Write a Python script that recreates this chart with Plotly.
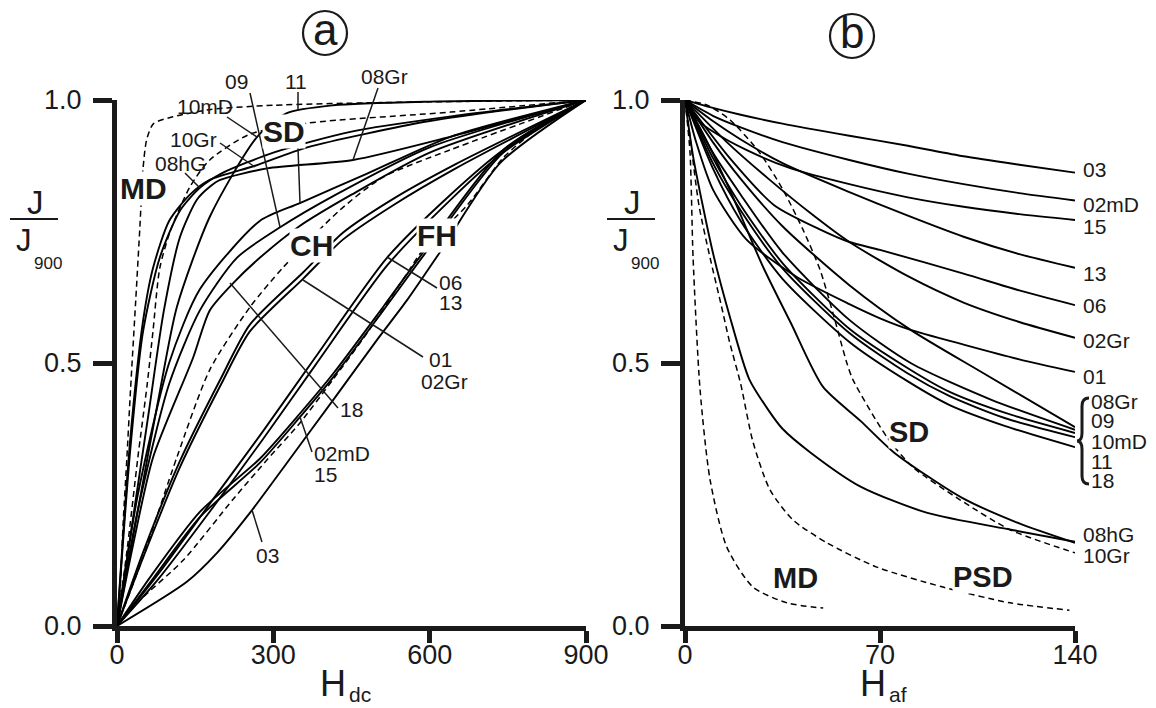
import plotly.graph_objects as go

# ---------------- data: panel (a)  J/J900 vs Hdc ----------------
A_MD_X = [0, 6, 12, 19, 26, 36, 44, 50, 57, 70, 107, 180, 300, 500, 900]
A_MD_Y = [0, 0.07, 0.2, 0.32, 0.45, 0.62, 0.76, 0.87, 0.925, 0.955, 0.968, 0.982, 0.99, 0.995, 1.0]
A_SD_X = [0, 20, 40, 58, 69, 82, 102, 140, 178, 255, 365, 640, 900]
A_SD_Y = [0, 0.15, 0.32, 0.46, 0.56, 0.68, 0.75, 0.835, 0.886, 0.935, 0.956, 0.977, 1.0]
A_CH_X = [0, 50, 115, 178, 255, 319, 428, 510, 639, 900]
A_CH_Y = [0, 0.131, 0.321, 0.487, 0.606, 0.682, 0.791, 0.853, 0.905, 1.0]
A_FH_X = [0, 44, 127, 222, 288, 351, 414, 480, 557, 587, 672, 741, 800, 900]
A_FH_Y = [0, 0.049, 0.125, 0.24, 0.316, 0.386, 0.468, 0.557, 0.671, 0.715, 0.80, 0.89, 0.94, 1.0]

A_03_X = [0, 134, 192, 255, 326, 415, 499, 557, 620, 735, 900]
A_03_Y = [0, 0.084, 0.139, 0.215, 0.31, 0.43, 0.544, 0.62, 0.711, 0.88, 1.0]
A_02mD_X = [0, 63, 159, 274, 351, 415, 511, 600, 741, 900]
A_02mD_Y = [0, 0.082, 0.207, 0.31, 0.397, 0.473, 0.6, 0.72, 0.9, 1.0]
A_15_X = [0, 63, 159, 274, 351, 415, 511, 600, 741, 900]
A_15_Y = [0, 0.092, 0.217, 0.318, 0.404, 0.48, 0.607, 0.727, 0.905, 1.0]
A_06_X = [0, 80, 180, 280, 380, 518, 640, 741, 900]
A_06_Y = [0, 0.1, 0.235, 0.37, 0.51, 0.70, 0.82, 0.905, 1.0]
A_13_X = [0, 80, 180, 280, 380, 518, 640, 741, 900]
A_13_Y = [0, 0.09, 0.22, 0.355, 0.495, 0.685, 0.81, 0.9, 1.0]
A_01_X = [0, 50, 120, 200, 255, 357, 434, 530, 650, 900]
A_01_Y = [0, 0.13, 0.3, 0.46, 0.56, 0.66, 0.735, 0.8, 0.87, 1.0]
A_02Gr_X = [0, 50, 120, 200, 255, 357, 434, 530, 650, 900]
A_02Gr_Y = [0, 0.14, 0.312, 0.472, 0.573, 0.672, 0.748, 0.812, 0.878, 1.0]
A_18_X = [0, 30, 69, 146, 178, 223, 274, 350, 450, 600, 900]
A_18_Y = [0, 0.15, 0.32, 0.51, 0.6, 0.652, 0.7, 0.76, 0.82, 0.9, 1.0]
A_09_X = [0, 40, 100, 159, 230, 313, 420, 600, 900]
A_09_Y = [0, 0.22, 0.46, 0.6, 0.7, 0.758, 0.82, 0.91, 1.0]
A_11_X = [0, 40, 100, 159, 274, 351, 480, 640, 900]
A_11_Y = [0, 0.25, 0.5, 0.64, 0.77, 0.804, 0.86, 0.93, 1.0]
A_08Gr_X = [0, 30, 60, 90, 121, 153, 178, 198, 288, 453, 639, 900]
A_08Gr_Y = [0, 0.2, 0.4, 0.6, 0.74, 0.81, 0.835, 0.848, 0.87, 0.886, 0.93, 1.0]
A_08hG_X = [0, 25, 50, 82, 121, 159, 200, 300, 450, 650, 900]
A_08hG_Y = [0, 0.33, 0.56, 0.7, 0.79, 0.833, 0.86, 0.9, 0.94, 0.97, 1.0]
A_10Gr_X = [0, 25, 50, 69, 100, 140, 178, 265, 365, 600, 900]
A_10Gr_Y = [0, 0.35, 0.58, 0.68, 0.77, 0.82, 0.848, 0.875, 0.91, 0.96, 1.0]
A_10mD_X = [0, 40, 83, 115, 179, 269, 326, 415, 600, 900]
A_10mD_Y = [0, 0.22, 0.45, 0.607, 0.78, 0.93, 0.975, 0.99, 0.997, 1.0]

# ---------------- data: panel (b)  J/J900 vs Haf ----------------
B_03_X = [0, 10, 20, 35, 59, 80, 100, 120, 140]
B_03_Y = [1, 0.985, 0.972, 0.955, 0.932, 0.913, 0.893, 0.877, 0.862]
B_02mD_X = [0, 10, 20, 35, 59, 80, 100, 120, 140]
B_02mD_Y = [1, 0.97, 0.948, 0.92, 0.886, 0.86, 0.84, 0.823, 0.809]
B_15_X = [0, 5, 10, 22, 38, 59, 80, 100, 120, 140]
B_15_Y = [1, 0.96, 0.94, 0.905, 0.87, 0.84, 0.815, 0.797, 0.783, 0.772]
B_13_X = [0, 10, 20, 35, 59, 80, 100, 120, 140]
B_13_Y = [1, 0.96, 0.925, 0.88, 0.825, 0.78, 0.74, 0.707, 0.681]
B_06_X = [0, 16, 32, 48, 59, 70, 100, 120, 140]
B_06_Y = [1, 0.89, 0.80, 0.755, 0.73, 0.715, 0.67, 0.638, 0.61]
B_02Gr_X = [0, 15, 30, 45, 59, 80, 100, 120, 140]
B_02Gr_Y = [1, 0.92, 0.85, 0.785, 0.73, 0.665, 0.615, 0.578, 0.548]
B_01_X = [0, 4, 10, 22, 40, 59, 70, 81, 100, 120, 140]
B_01_Y = [1, 0.92, 0.83, 0.735, 0.664, 0.612, 0.585, 0.563, 0.535, 0.507, 0.483]
B_08Gr_X = [0, 10, 20, 35, 59, 81, 107, 140]
B_08Gr_Y = [1, 0.92, 0.85, 0.76, 0.648, 0.563, 0.481, 0.378]
B_09_X = [0, 10, 20, 35, 59, 81, 110, 140]
B_09_Y = [1, 0.9, 0.82, 0.71, 0.582, 0.5, 0.43, 0.373]
B_10mD_X = [0, 10, 20, 35, 59, 80, 95, 115, 140]
B_10mD_Y = [1, 0.89, 0.8, 0.69, 0.565, 0.49, 0.445, 0.405, 0.367]
B_11_X = [0, 10, 20, 35, 59, 80, 95, 115, 140]
B_11_Y = [1, 0.88, 0.79, 0.68, 0.557, 0.48, 0.437, 0.395, 0.359]
B_18_X = [0, 10, 20, 35, 59, 80, 95, 115, 140]
B_18_Y = [1, 0.87, 0.77, 0.66, 0.54, 0.465, 0.42, 0.38, 0.34]
B_08hG_X = [0, 3, 10, 16, 23, 30, 35, 45, 63, 87, 117, 140]
B_08hG_Y = [1, 0.89, 0.71, 0.59, 0.47, 0.41, 0.375, 0.33, 0.265, 0.215, 0.183, 0.16]
B_10Gr_X = [0, 8, 16, 28, 38, 49.5, 63, 75, 99, 120, 140]
B_10Gr_Y = [1, 0.92, 0.83, 0.683, 0.576, 0.455, 0.39, 0.33, 0.245, 0.195, 0.158]
B_MD_X = [0, 1.8, 2.9, 5.4, 9, 15, 24.4, 36.6, 49.6]
B_MD_Y = [1, 0.9, 0.7, 0.45, 0.278, 0.15, 0.074, 0.044, 0.034]
B_PSD_X = [0, 1.8, 5, 9, 13, 16, 20, 24.4, 30.5, 38.8, 51, 68.9, 92.6, 116.7, 138]
B_PSD_Y = [1, 0.93, 0.8, 0.7, 0.61, 0.54, 0.46, 0.35, 0.259, 0.2015, 0.158, 0.112, 0.074, 0.044, 0.03]
B_SD_X = [0, 8, 16.2, 26.9, 35.2, 42.4, 48.5, 53.1, 58.1, 60.3, 72.5, 81.8, 98.7, 116.7, 140]
B_SD_Y = [1, 0.99, 0.962, 0.899, 0.829, 0.753, 0.677, 0.595, 0.5, 0.468, 0.359, 0.302, 0.24, 0.183, 0.139]

A_XTICKS = [0, 300, 600, 900]
B_XTICKS = [0, 70, 140]
Y_TICKS = [0, 0.5, 1.0]
Y_TICKTEXT = ["0.0", "0.5", "1.0"]

# ---------------- figure ----------------
W, H = 1156, 708
FONT = "Liberation Sans, Arial, sans-serif"


def P(px, py):
    return px / W, 1 - py / H


fig = go.Figure()


def add(xs, ys, panel, dashed=False, spline=False):
    fig.add_trace(go.Scatter(
        x=xs, y=ys, mode="lines",
        xaxis="x" if panel == "a" else "x2",
        yaxis="y" if panel == "a" else "y2",
        line=dict(color="black", width=1.5 if dashed else 1.9,
                  dash="6px,4px" if dashed else "solid",
                  shape="spline" if spline else "linear", smoothing=0.7),
        hoverinfo="skip", showlegend=False))


for xs, ys in [(A_03_X, A_03_Y), (A_02mD_X, A_02mD_Y), (A_15_X, A_15_Y),
               (A_06_X, A_06_Y), (A_13_X, A_13_Y), (A_01_X, A_01_Y),
               (A_02Gr_X, A_02Gr_Y), (A_18_X, A_18_Y), (A_09_X, A_09_Y),
               (A_11_X, A_11_Y), (A_08Gr_X, A_08Gr_Y), (A_08hG_X, A_08hG_Y),
               (A_10Gr_X, A_10Gr_Y), (A_10mD_X, A_10mD_Y)]:
    add(xs, ys, "a", spline=True)
for xs, ys in [(A_MD_X, A_MD_Y), (A_SD_X, A_SD_Y), (A_CH_X, A_CH_Y), (A_FH_X, A_FH_Y)]:
    add(xs, ys, "a", dashed=True, spline=True)

for xs, ys in [(B_03_X, B_03_Y), (B_02mD_X, B_02mD_Y), (B_15_X, B_15_Y),
               (B_13_X, B_13_Y), (B_06_X, B_06_Y), (B_02Gr_X, B_02Gr_Y),
               (B_01_X, B_01_Y), (B_08Gr_X, B_08Gr_Y), (B_09_X, B_09_Y),
               (B_10mD_X, B_10mD_Y), (B_11_X, B_11_Y), (B_18_X, B_18_Y),
               (B_08hG_X, B_08hG_Y), (B_10Gr_X, B_10Gr_Y)]:
    add(xs, ys, "b", spline=True)
for xs, ys in [(B_MD_X, B_MD_Y), (B_PSD_X, B_PSD_Y), (B_SD_X, B_SD_Y)]:
    add(xs, ys, "b", dashed=True, spline=True)

AX = dict(showline=True, linewidth=5, linecolor="#1a1a1a", ticks="outside",
          tickwidth=5, tickcolor="#1a1a1a", showgrid=False, zeroline=False,
          automargin=False,
          tickfont=dict(family=FONT, size=27, color="#1a1a1a"), fixedrange=True)
ydom = [1 - 626 / H, 1 - 100 / H]

fig.update_layout(
    width=W, height=H, margin=dict(l=0, r=0, t=0, b=0, autoexpand=False),
    paper_bgcolor="white", plot_bgcolor="white",
    xaxis=dict(AX, domain=[117 / W, 586 / W], range=[0, 900], anchor="y",
               tickvals=A_XTICKS, ticklen=12, ticklabelstandoff=-11),
    yaxis=dict(AX, domain=ydom, range=[0, 1], anchor="x",
               tickvals=Y_TICKS, ticktext=Y_TICKTEXT, ticklen=19, ticklabelstandoff=6),
    xaxis2=dict(AX, domain=[685 / W, 1075 / W], range=[0, 140], anchor="y2",
                tickvals=B_XTICKS, ticklen=12, ticklabelstandoff=-11),
    yaxis2=dict(AX, domain=ydom, range=[0, 1], anchor="x2",
                tickvals=Y_TICKS, ticktext=Y_TICKTEXT, ticklen=19, ticklabelstandoff=6),
)

ann = []


def text(t, px, py, size=22, bold=False, anchor="center", bg=None):
    x, y = P(px, py)
    d = dict(text=("<b>%s</b>" % t) if bold else t, x=x, y=y, xref="paper", yref="paper",
             showarrow=False, xanchor=anchor, yanchor="middle",
             font=dict(family=FONT, size=size, color="#1a1a1a"), borderpad=0)
    if bg:
        d["bgcolor"] = bg
    ann.append(d)


# panel (a) curve labels
for t, px, py in [("09", 236, 82), ("11", 296, 81), ("08Gr", 384, 77), ("10mD", 205, 107),
                  ("10Gr", 193, 139), ("08hG", 180, 164), ("06", 450, 282), ("13", 450, 302),
                  ("01", 440, 359), ("02Gr", 444, 381), ("18", 351, 409), ("02mD", 342, 453),
                  ("15", 325, 475), ("03", 267, 555)]:
    text(t, px, py, size=21)
for t, px, py in [("MD", 143, 189), ("SD", 284, 132), ("CH", 311, 246), ("FH", 437, 235)]:
    text(t, px, py, size=30, bold=True, bg="white")

# panel (b) curve labels
for t, py in [("03", 169), ("02mD", 205), ("15", 226), ("13", 273), ("06", 306),
              ("02Gr", 340), ("01", 376), ("08hG", 534), ("10Gr", 555)]:
    text(t, 1082, py, size=21, anchor="left")
for t, py in [("08Gr", 401), ("09", 420), ("10mD", 441), ("11", 461), ("18", 480)]:
    text(t, 1090, py, size=21, anchor="left")
for t, px, py in [("SD", 909, 432), ("MD", 795, 578), ("PSD", 983, 577)]:
    text(t, px, py, size=29, bold=True, bg="white")

# axis titles
for base, sub, px in [("H", "dc", 333), ("H", "af", 873)]:
    text(base, px, 683, size=36)
    text(sub, px + 15, 694, size=21, anchor="left")

# y labels (J / J900)
shapes = []
for off in [0, 597]:
    text("J", 35 + off, 202, size=33)
    text("J", 24 + off, 240, size=31)
    text("900", 48 + off, 263, size=17)
    x0, y0 = P(10 + off, 219)
    x1, y1 = P(58 + off, 219)
    shapes.append(dict(type="line", xref="paper", yref="paper", x0=x0, y0=y0, x1=x1, y1=y1,
                       line=dict(color="#1a1a1a", width=2)))

# circled panel letters
for t, cx, cy in [("a", 325, 33), ("b", 852, 36)]:
    x0, y0 = P(cx - 22, cy + 22)
    x1, y1 = P(cx + 22, cy - 22)
    shapes.append(dict(type="circle", xref="paper", yref="paper", x0=x0, y0=y0, x1=x1, y1=y1,
                       line=dict(color="#1a1a1a", width=2.2)))
    text(t, cx, cy - 4, size=44)

# leader lines (panel a)
for (ax0, ay0, ax1, ay1) in [(250, 93, 280, 227), (298, 92, 298, 110), (298, 148, 300, 203),
                             (378, 88, 353, 160), (227, 117, 257, 137), (220, 143, 255, 167),
                             (185, 173, 200, 188), (230, 283, 338, 408), (303, 280, 423, 357),
                             (387, 257, 437, 288), (300, 417, 312, 452), (252, 510, 262, 542)]:
    x0, y0 = P(ax0, ay0)
    x1, y1 = P(ax1, ay1)
    shapes.append(dict(type="line", xref="paper", yref="paper", x0=x0, y0=y0, x1=x1, y1=y1,
                       line=dict(color="#1a1a1a", width=1.5)))

# brace for grouped labels (panel b)
pts = [("M", 1089, 398), ("Q", 1082, 398, 1082, 406), ("L", 1082, 433), ("Q", 1082, 441, 1077, 441),
       ("Q", 1082, 441, 1082, 449), ("L", 1082, 476), ("Q", 1082, 484, 1089, 484)]
path = ""
for p in pts:
    cmd = p[0]
    coords = p[1:]
    segs = []
    for i in range(0, len(coords), 2):
        x, y = P(coords[i], coords[i + 1])
        segs.append("%.5f,%.5f" % (x, y))
    path += cmd + " " + " ".join(segs) + " "
shapes.append(dict(type="path", xref="paper", yref="paper", path=path.strip(),
                   line=dict(color="#1a1a1a", width=3)))

fig.update_layout(annotations=ann, shapes=shapes)
fig.write_html("out.html", config={"displayModeBar": False},
               post_script="document.body.style.margin='0px';document.body.style.overflow='hidden';")
